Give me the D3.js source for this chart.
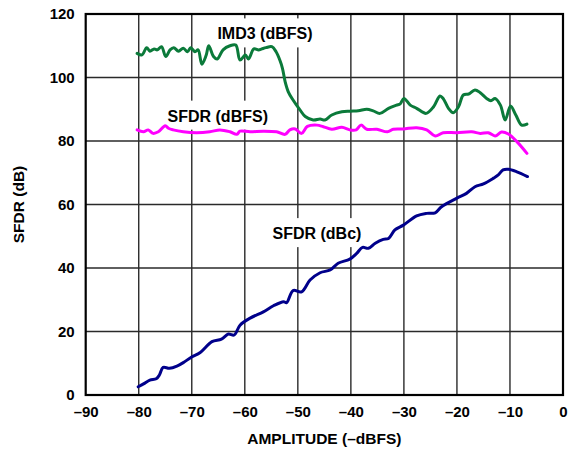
<!DOCTYPE html>
<html>
<head>
<meta charset="utf-8">
<script src="https://cdn.jsdelivr.net/npm/d3@7"></script>
<style>
body { margin: 0; background: #fff; }
text { font-family: "Liberation Sans", Arial, sans-serif; font-weight: bold; fill: #000; }
</style>
</head>
<body>
<div id="chart"></div>
<script>
// values: [amplitude (-dBFS), dB]
var imd3 = [[-80.3,107.6],[-79.4,107.1],[-78.5,109.4],[-77.9,108.3],[-77.1,109.0],[-76.5,108.7],[-75.7,109.7],
	[-74.9,106.6],[-74.1,108.7],[-73.4,109.4],[-72.5,108.3],[-71.6,109.2],[-70.8,108.1],[-70.2,109.4],[-69.4,108.1],
	[-68.8,108.7],[-68.1,104.2],[-67.3,106.9],[-66.8,110.0],[-65.9,106.6],[-65.2,105.8],[-64.1,108.7],[-62.8,110.0],
	[-61.7,110.2],[-60.9,105.5],[-59.9,107.1],[-59.3,105.8],[-58.3,109.0],[-57.4,108.7],[-56.8,109.0],[-56.0,109.4],
	[-54.9,109.7],[-54.1,108.1],[-53.4,105.5],[-52.9,102.9],[-52.4,98.7],[-51.8,95.5],[-50.9,92.9],[-49.6,89.8],
	[-48.6,87.7],[-47.1,86.6],[-45.8,86.9],[-44.9,86.6],[-43.6,88.2],[-41.7,89.2],[-40.2,89.4],[-38.6,89.5],
	[-37.0,90.0],[-35.8,89.5],[-34.5,88.7],[-32.9,90.3],[-31.4,91.3],[-30.7,91.7],[-30.0,93.4],[-28.8,91.3],
	[-27.6,90.3],[-25.8,88.7],[-24.4,90.8],[-23.2,94.2],[-22.6,93.4],[-21.6,90.3],[-20.7,88.9],[-19.7,90.8],
	[-18.8,94.5],[-17.8,94.8],[-16.6,96.1],[-15.6,95.2],[-14.4,93.4],[-13.6,92.7],[-12.8,93.4],[-11.8,91.3],
	[-10.9,86.6],[-9.9,91.0],[-8.9,88.2],[-7.8,85.0],[-6.8,85.3]];

var sfdrFS = [[-80.3,83.5],[-79.1,82.9],[-78.2,83.5],[-77.3,82.4],[-76.3,82.9],[-75.0,84.8],[-74.4,84.0],
	[-73.5,83.5],[-71.6,82.9],[-69.1,82.6],[-66.6,82.9],[-64.7,83.5],[-62.8,82.9],[-61.5,82.1],[-60.9,83.1],
	[-59.0,82.9],[-56.5,83.1],[-54.0,82.9],[-52.4,82.1],[-51.5,83.5],[-50.5,83.8],[-49.3,82.4],[-48.2,84.6],
	[-46.4,85.0],[-45.2,84.5],[-43.6,83.7],[-41.7,84.3],[-40.2,83.5],[-39.0,83.5],[-38.1,85.0],[-37.0,83.7],
	[-35.1,83.7],[-33.1,82.9],[-32.0,83.7],[-30.1,83.8],[-27.6,84.2],[-25.7,83.5],[-24.1,81.6],[-22.6,82.6],
	[-20.0,82.6],[-17.2,82.9],[-15.6,82.4],[-14.1,82.6],[-12.8,81.6],[-11.6,82.8],[-10.3,82.2],[-8.7,79.8],
	[-6.8,76.1]];

var sfdrC = [[-80.1,2.6],[-79.1,3.5],[-77.9,4.7],[-76.7,5.1],[-76.1,6.3],[-75.4,8.7],[-74.2,8.4],[-72.8,9.1],
	[-71.6,10.2],[-70.1,11.9],[-68.4,13.4],[-66.2,16.8],[-64.4,17.6],[-63.1,19.2],[-62.0,18.9],[-60.9,22.0],
	[-59.0,24.2],[-56.5,26.2],[-54.6,28.1],[-52.7,29.4],[-52.1,29.1],[-50.9,32.9],[-49.3,32.5],[-47.7,36.2],
	[-45.8,38.5],[-43.9,39.4],[-42.4,41.5],[-40.2,42.8],[-38.9,44.6],[-37.8,46.5],[-36.7,46.2],[-35.4,47.8],
	[-33.9,49.0],[-32.9,49.3],[-31.7,52.0],[-30.1,53.5],[-27.6,56.4],[-25.7,57.2],[-24.1,57.4],[-22.9,59.3],
	[-20.0,62.0],[-18.2,63.5],[-16.6,65.6],[-15.0,66.5],[-13.1,68.3],[-12.2,69.3],[-11.3,70.9],[-10.3,71.1],
	[-8.7,70.3],[-6.7,68.8]];

var xTicks = [-90,-80,-70,-60,-50,-40,-30,-20,-10,0];
var yTicks = [0,20,40,60,80,100,120];

// in-plot labels: [text, amplitude, dB] (baseline centre)
var labels = [["IMD3 (dBFS)",-56.2,112.0],["SFDR (dBFS)",-65.1,86.1],["SFDR (dBc)",-46.4,49.1]];

var width = 575, height = 450;
var margin = {top: 14, right: 12, bottom: 55, left: 85.7};

var x = d3.scaleLinear().domain([-90,0]).range([margin.left, width-margin.right]);
var y = d3.scaleLinear().domain([0,120]).range([height-margin.bottom, margin.top]);

var svg = d3.select("#chart").append("svg")
	.attr("width", width)
	.attr("height", height);

// grid
svg.append("g").selectAll("line.v")
	.data(xTicks.slice(1,-1)).enter()
	.append("line")
	.attr("x1", function(d){return x(d)}).attr("x2", function(d){return x(d)})
	.attr("y1", y(0)).attr("y2", y(120))
	.style("stroke", "#2a2a2a").style("stroke-width", "1.4px");

svg.append("g").selectAll("line.h")
	.data(yTicks.slice(1,-1)).enter()
	.append("line")
	.attr("x1", x(-90)).attr("x2", x(0))
	.attr("y1", function(d){return y(d)}).attr("y2", function(d){return y(d)})
	.style("stroke", "#2a2a2a").style("stroke-width", "1.4px");

// label backgrounds + text
var lab = svg.append("g").selectAll("g")
	.data(labels).enter()
	.append("g");

lab.append("text")
	.attr("x", function(d){return x(d[1])})
	.attr("y", function(d){return y(d[2])})
	.attr("text-anchor", "middle")
	.style("font-size", "16px")
	.text(function(d){return d[0]});

lab.each(function(){
	var g = d3.select(this);
	var bb = g.select("text").node().getBBox();
	g.insert("rect", "text")
		.attr("x", bb.x-3).attr("y", bb.y-7)
		.attr("width", bb.width+6).attr("height", bb.height+12)
		.style("fill", "#fff");
});

// lines
var line = d3.line()
	.x(function(d){return x(d[0])})
	.y(function(d){return y(d[1])})
	.curve(d3.curveCatmullRom);

var series = [[imd3,"#0b7a3a"],[sfdrFS,"#ff00ff"],[sfdrC,"#00008b"]];
series.forEach(function(s){
	svg.append("path")
		.datum(s[0])
		.attr("d", line)
		.style("fill", "none")
		.style("stroke", s[1])
		.style("stroke-width", "3px")
		.style("stroke-linejoin", "round")
		.style("stroke-linecap", "round");
});

// frame
svg.append("rect")
	.attr("x", x(-90)).attr("y", y(120))
	.attr("width", x(0)-x(-90)).attr("height", y(0)-y(120))
	.style("fill", "none").style("stroke", "#000").style("stroke-width", "2.2px");

// tick labels
var xAxis = d3.axisBottom(x).tickValues(xTicks).tickSize(0).tickPadding(11)
	.tickFormat(function(d){return d < 0 ? "\u2013" + (-d) : d});
svg.append("g")
	.attr("class", "x_axis")
	.attr("transform", "translate(0," + y(0) + ")")
	.call(xAxis)
	.call(function(g){g.select(".domain").remove()})
	.selectAll("text").style("font-size", "15px");

var yAxis = d3.axisLeft(y).tickValues(yTicks).tickSize(0).tickPadding(11);
svg.append("g")
	.attr("class", "y_axis")
	.attr("transform", "translate(" + x(-90) + ",0)")
	.call(yAxis)
	.call(function(g){g.select(".domain").remove()})
	.selectAll("text").style("font-size", "15px");

svg.selectAll(".x_axis, .y_axis").attr("font-family", null).attr("font-size", null);

// axis titles
svg.append("text")
	.attr("x", (x(-90)+x(0))/2)
	.attr("y", 444)
	.attr("text-anchor", "middle")
	.style("font-size", "15.5px")
	.text("AMPLITUDE (\u2013dBFS)");

svg.append("text")
	.attr("transform", "rotate(-90)")
	.attr("x", -(y(0)+y(120))/2)
	.attr("y", 24)
	.attr("text-anchor", "middle")
	.style("font-size", "15.5px")
	.text("SFDR (dB)");
</script>
</body>
</html>
